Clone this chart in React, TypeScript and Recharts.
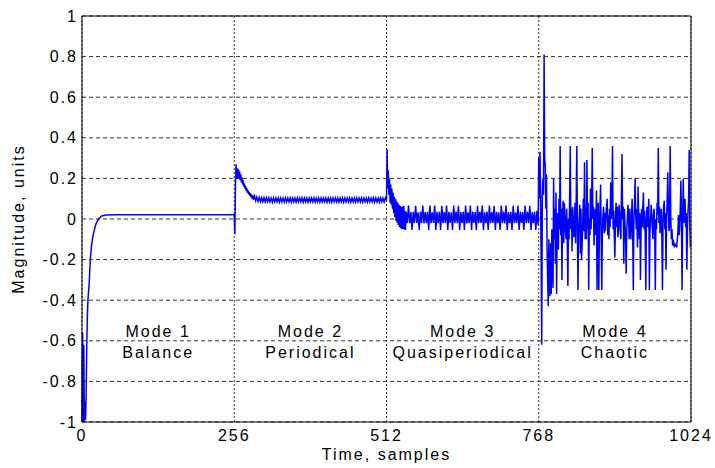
import React from 'react';
import { CartesianGrid, Line, LineChart, ReferenceDot, ReferenceLine, XAxis, YAxis } from 'recharts';

// [sample, magnitude] pairs
const balancePoints: [number, number][] = [
  [0, -1], [1, -0.56], [2, -1], [3, -0.62], [4, -1], [5, -0.9], [6, -0.99], [7, -0.86],
  [8, -0.62], [9, -0.48], [10, -0.4], [12, -0.32], [14, -0.2], [16, -0.13], [18, -0.09],
  [21, -0.05], [24, -0.02], [28, 0.0], [33, 0.015], [40, 0.02], [60, 0.021], [100, 0.021],
  [150, 0.021], [200, 0.021], [255, 0.021],
];

const periodicStart: [number, number][] = [
  [256, 0.021], [257, -0.075], [258, 0.16], [259, 0.27], [260, 0.2], [261, 0.25], [262, 0.2],
  [263, 0.245], [264, 0.2], [265, 0.235], [266, 0.19], [267, 0.22], [268, 0.18], [269, 0.205],
  [270, 0.17], [271, 0.19], [272, 0.16], [273, 0.175], [274, 0.15], [275, 0.163], [276, 0.14],
  [277, 0.152], [278, 0.13], [279, 0.142], [280, 0.122], [281, 0.134], [282, 0.115], [283, 0.127],
  [284, 0.108], [285, 0.121], [286, 0.1], [287, 0.117], [288, 0.095], [290, 0.113], [292, 0.09],
  [294, 0.108], [296, 0.087],
];

// steady part of mode 2, one value every 2 samples from sample 298
const periodicSteady = [
  0.106, 0.086, 0.105, 0.085, 0.105, 0.084, 0.104, 0.085, 0.104, 0.084,
  0.103, 0.083, 0.104, 0.084, 0.103, 0.084, 0.104, 0.083, 0.103, 0.084,
  0.103, 0.083, 0.104, 0.084, 0.103, 0.084, 0.104, 0.083, 0.103, 0.084,
  0.103, 0.083, 0.104, 0.084, 0.103, 0.084, 0.104, 0.083, 0.103, 0.084,
  0.103, 0.083, 0.104, 0.084, 0.103, 0.084, 0.104, 0.083, 0.103, 0.084,
  0.103, 0.083, 0.104, 0.084, 0.103, 0.084, 0.104, 0.083, 0.103, 0.084,
  0.103, 0.083, 0.104, 0.084, 0.103, 0.084, 0.104, 0.083, 0.103, 0.084,
  0.103, 0.083, 0.104, 0.084, 0.103, 0.084, 0.104, 0.083, 0.103, 0.084,
  0.103, 0.083, 0.104, 0.084, 0.103, 0.084, 0.104, 0.083, 0.103, 0.084,
  0.103, 0.083, 0.104, 0.084, 0.103, 0.084, 0.104, 0.083, 0.103, 0.084,
  0.103, 0.083, 0.104, 0.084, 0.103, 0.084, 0.103,
];

const quasiStart: [number, number][] = [
  [511, 0.095], [512, 0.095], [513, 0.345], [514, 0.15], [515, 0.24], [516, 0.12], [517, 0.2],
  [518, 0.08], [519, 0.17], [520, 0.07], [521, 0.15], [522, 0.05], [523, 0.13], [524, 0.03],
  [525, 0.11], [526, 0.01], [527, 0.1], [528, -0.01], [529, 0.09], [530, -0.02], [531, 0.08],
  [532, -0.03], [533, 0.07], [534, -0.04], [535, 0.065], [536, -0.045], [537, 0.06],
  [538, -0.05], [539, 0.062], [540, -0.05], [541, 0.065], [542, -0.052], [543, 0.04],
  [544, -0.054], [545, 0.035],
];

// steady part of mode 3, one value every 2 samples from sample 547
const quasiSteady = [
  -0.02, 0.066, -0.021, 0.034, -0.054, 0.036, -0.019, 0.065, -0.02, 0.033,
  -0.054, 0.036, -0.02, 0.066, -0.022, 0.034, -0.02, 0.035, -0.054, 0.066,
  -0.021, 0.033, -0.019, 0.066, -0.054, 0.035, -0.02, 0.036, -0.054, 0.065,
  -0.021, 0.034, -0.02, 0.066, -0.054, 0.035, -0.019, 0.033, -0.054, 0.066,
  -0.02, 0.036, -0.021, 0.065, -0.054, 0.034, -0.02, 0.035, -0.054, 0.066,
  -0.022, 0.033, -0.02, 0.066, -0.054, 0.036, -0.019, 0.034, -0.054, 0.065,
  -0.021, 0.035, -0.02, 0.066, -0.054, 0.033, -0.02, 0.036, -0.054, 0.066,
  -0.021, 0.034, -0.019, 0.065, -0.054, 0.035, -0.02, 0.033, -0.054, 0.066,
  -0.02, 0.036, -0.022, 0.066, -0.054, 0.034, -0.02, 0.035, -0.054, 0.065,
  -0.021, 0.033, -0.02, 0.066, -0.054, 0.036, -0.019, 0.034, -0.054, 0.066,
  -0.02, 0.035, -0.021, 0.065, -0.054, 0.033, -0.02, 0.036, -0.054, 0.04,
];

// mode 4, one value per sample from sample 767
const chaoticValues = [
  -0.03, 0.3, 0.1, 0.33, 0.15, -0.2, -0.62, 0.1, 0.2, 0.12,
  0.81, 0.3, 0.26, 0.05, 0.22, -0.15, -0.3, -0.43, -0.1, -0.25,
  -0.38, -0.12, -0.37, -0.05, -0.2, -0.34, 0.2, -0.1, 0.05, -0.22,
  0.13, -0.37, -0.05, 0.03, -0.15, 0.1, -0.05, 0.36, -0.08, 0.05,
  -0.3, 0.02, 0.09, -0.12, 0.08, 0.02, -0.06, -0.1, 0.05, -0.12,
  -0.33, 0.0, -0.1, 0.12, 0.36, -0.05, 0.05, -0.16, 0.06, 0.0,
  -0.09, -0.03, 0.08, -0.12, 0.1, 0.36, -0.05, -0.35, -0.05, 0.0,
  0.07, -0.17, 0.05, -0.2, -0.12, -0.02, 0.1, -0.06, 0.28, -0.1,
  0.05, -0.1, 0.29, -0.05, 0.08, -0.35, 0.0, -0.08, 0.15, -0.05,
  0.1, 0.35, 0.0, 0.06, -0.13, -0.02, 0.05, -0.08, 0.14, -0.35,
  0.0, 0.08, -0.35, -0.04, 0.05, 0.17, -0.1, -0.35, -0.05, 0.02,
  0.06, -0.07, 0.03, -0.06, 0.02, 0.06, 0.1, -0.08, 0.02, -0.1,
  0.05, -0.04, 0.18, 0.0, 0.07, 0.36, -0.05, 0.04, -0.08, -0.19,
  0.0, 0.08, -0.04, 0.06, -0.09, -0.05, 0.07, 0.03, -0.06, -0.1,
  0.1, 0.32, 0.0, 0.06, -0.22, 0.05, -0.03, -0.1, -0.27, -0.05,
  0.0, 0.07, 0.03, -0.1, 0.05, -0.04, -0.1, 0.02, 0.1, -0.08,
  -0.35, 0.0, 0.07, 0.2, 0.03, -0.05, 0.05, -0.14, 0.16, 0.02,
  -0.1, 0.03, -0.3, -0.06, 0.05, -0.04, 0.06, 0.13, -0.05, 0.04,
  -0.08, -0.35, 0.0, 0.06, -0.04, 0.03, 0.1, -0.35, -0.06, 0.0,
  0.07, 0.03, -0.05, -0.1, 0.02, 0.05, -0.08, -0.35, 0.0, -0.05,
  0.08, 0.02, 0.35, -0.02, 0.06, -0.07, -0.02, 0.05, -0.09, -0.35,
  0.0, 0.06, 0.09, -0.05, 0.03, -0.25, 0.0, 0.1, 0.23, 0.05,
  -0.06, -0.03, 0.36, 0.0, -0.1, -0.05, -0.13, -0.1, -0.12, -0.14,
  -0.12, -0.13, -0.13, -0.14, -0.1, -0.06, 0.02, -0.08, -0.04, 0.05,
  0.19, 0.0, -0.35, 0.0, 0.2, -0.02, 0.05, 0.1, -0.04, 0.03,
  -0.25, -0.05, 0.04, 0.09, 0.34, -0.05, -0.14,
];

const xTicks = [0, 256, 512, 768, 1024];
const yTicks = [-1, -0.8, -0.6, -0.4, -0.2, 0, 0.2, 0.4, 0.6, 0.8, 1];

const modeCenters = [128, 384, 640, 896];
const modeTitles = ['Mode 1', 'Mode 2', 'Mode 3', 'Mode 4'];
const modeNames = ['Balance', 'Periodical', 'Quasiperiodical', 'Chaotic'];

const toRows = (pts: [number, number][]) => pts.map(([sample, value]) => ({ sample, value }));
const stepRows = (start: number, step: number, vals: number[]) =>
  vals.map((value, i) => ({ sample: start + i * step, value }));

const data = [
  ...toRows(balancePoints),
  ...toRows(periodicStart),
  ...stepRows(298, 2, periodicSteady),
  ...toRows(quasiStart),
  ...stepRows(547, 2, quasiSteady),
  ...stepRows(767, 1, chaoticValues),
];

const font = 'Liberation Sans, Arial, Helvetica, sans-serif';
const textStyle = { fill: '#000', fontSize: 16, fontFamily: font, letterSpacing: 2 };

const App = () => {
  return (
    <div style={{ width: 715, height: 468 }}>
      <style>{'body{margin:0}'}</style>
      <LineChart width={715} height={468} data={data} margin={{ top: 16, right: 24, left: 0, bottom: 0 }}>
        <CartesianGrid vertical={false} stroke="#333" strokeDasharray="4 3" />
        <CartesianGrid horizontal={false} stroke="#333" strokeDasharray="2 2" />
        <XAxis
          dataKey="sample"
          type="number"
          domain={[0, 1024]}
          ticks={xTicks}
          height={46}
          tickLine={false}
          tickSize={0}
          tickMargin={8}
          axisLine={{ stroke: '#000' }}
          tick={textStyle}
          label={{ value: 'Time, samples', position: 'insideBottom', offset: 8, style: textStyle }}
        />
        <YAxis
          type="number"
          domain={[-1, 1]}
          ticks={yTicks}
          width={82}
          tickLine={false}
          tickSize={0}
          tickMargin={4}
          axisLine={{ stroke: '#000' }}
          tick={textStyle}
          label={{
            value: 'Magnitude, units',
            angle: -90,
            position: 'insideLeft',
            offset: 18,
            style: { ...textStyle, textAnchor: 'middle' },
          }}
        />
        <ReferenceLine y={1} stroke="#000" />
        <ReferenceLine x={1024} stroke="#000" />
        {modeCenters.map((c, i) => (
          <ReferenceDot
            key={c}
            x={c}
            y={-0.58}
            r={0}
            shape={(p: any) => (
              <g>
                <text x={p.cx} y={p.cy} textAnchor="middle" {...textStyle}>{modeTitles[i]}</text>
                <text x={p.cx} y={p.cy + 21} textAnchor="middle" {...textStyle}>{modeNames[i]}</text>
              </g>
            )}
          />
        ))}
        <Line
          type="linear"
          dataKey="value"
          stroke="#0000ff"
          strokeWidth={1.5}
          dot={false}
          isAnimationActive={false}
        />
      </LineChart>
    </div>
  );
};

export default App;
